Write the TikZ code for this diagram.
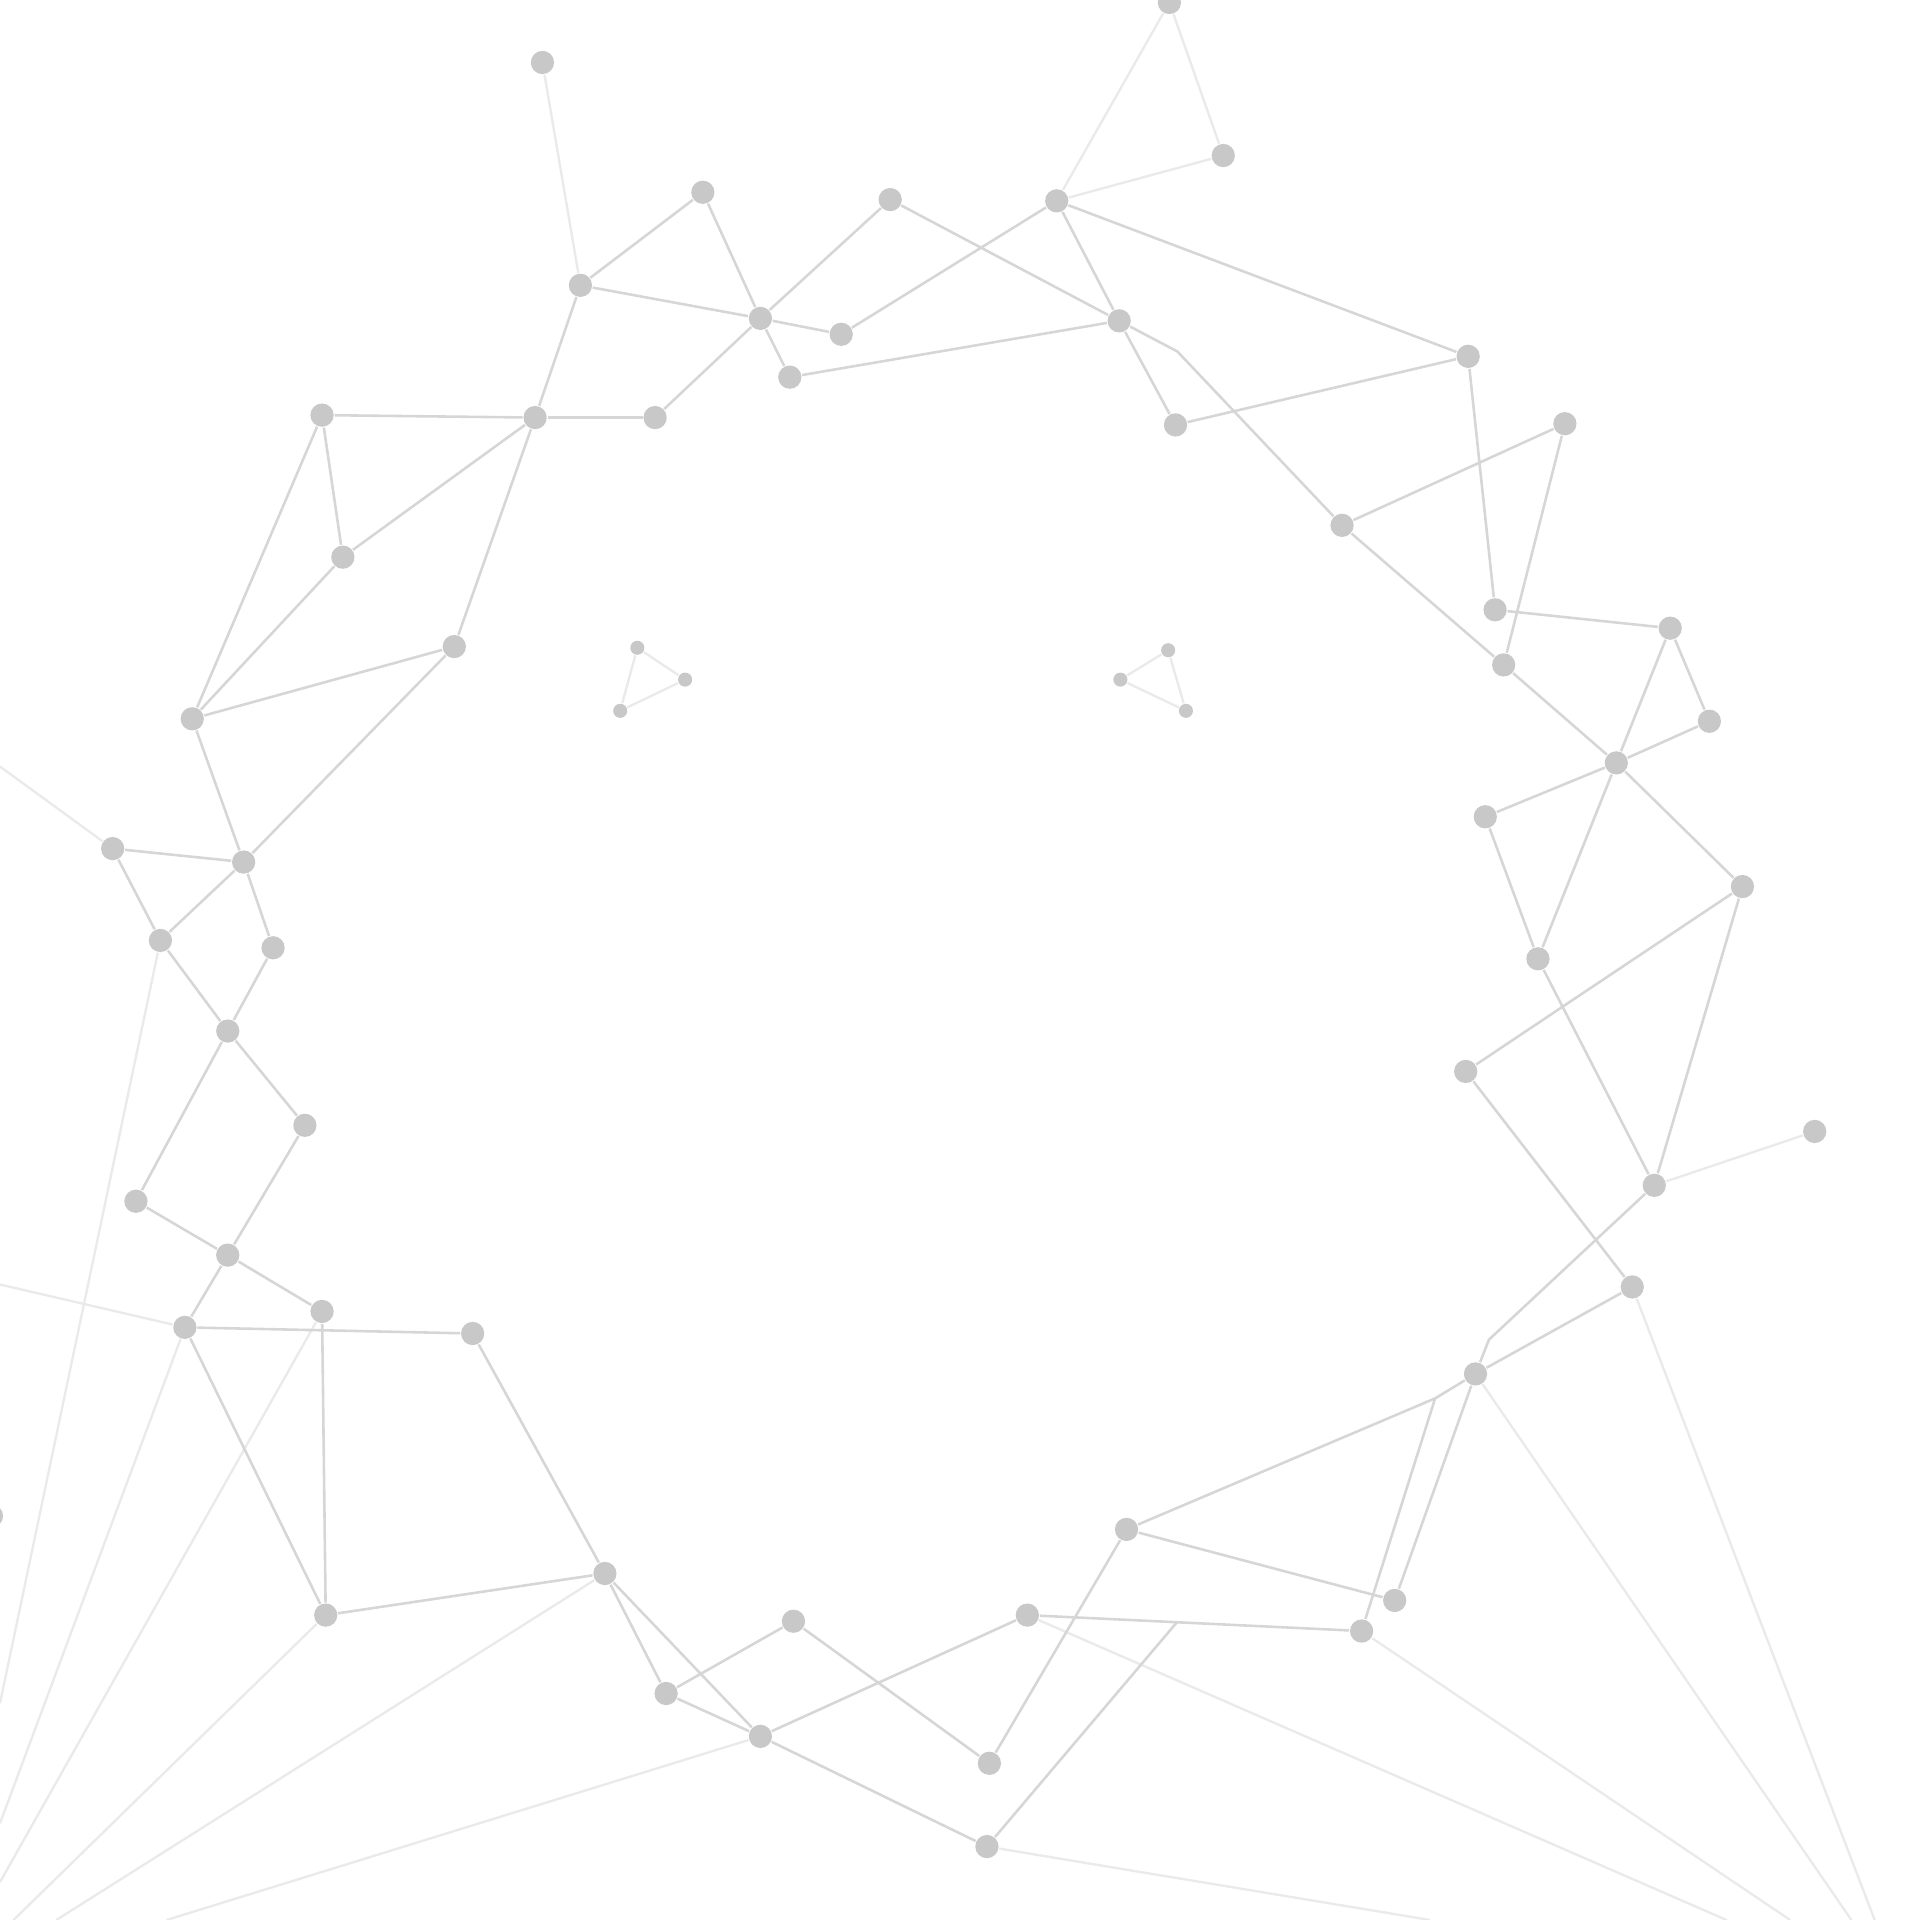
\documentclass[tikz,border=0pt]{standalone}
\definecolor{nodegray}{HTML}{C8C8C8}
\definecolor{edgegray}{HTML}{D6D6D6}
\definecolor{edgelight}{HTML}{EAEAEA}
\begin{document}
\begin{tikzpicture}[x=0.01cm,y=-0.01cm,
  dot/.style={circle,fill=nodegray,draw=none,inner sep=0pt,minimum size=0.19cm},
  tiny/.style={circle,fill=nodegray,draw=none,inner sep=0pt,minimum size=0.115cm},
  edge/.style={draw=edgegray,line width=0.6pt},
  faint/.style={draw=edgelight,line width=0.55pt}]
\useasboundingbox (0,0) rectangle (1568,1568);
\clip (0,0) rectangle (1568,1568);
% nodes
\node[dot] (n1) at (443,51) {};
\node[dot] (n2) at (955,2) {};
\node[dot] (n3) at (999,127) {};
\node[dot] (n4) at (574,157) {};
\node[dot] (n5) at (727,163) {};
\node[dot] (n6) at (863,164) {};
\node[dot] (n7) at (474,233) {};
\node[dot] (n8) at (621,260) {};
\node[dot] (n9) at (687,273) {};
\node[dot] (n10) at (914,262) {};
\node[dot] (n11) at (645,308) {};
\node[dot] (n12) at (1199,291) {};
\node[dot] (n13) at (1278,346) {};
\node[dot] (n14) at (960,347) {};
\node[dot] (n15) at (263,339) {};
\node[dot] (n16) at (437,341) {};
\node[dot] (n17) at (535,341) {};
\node[dot] (n18) at (280,455) {};
\node[dot] (n19) at (1096,429) {};
\node[dot] (n20) at (1221,498) {};
\node[dot] (n21) at (1364,513) {};
\node[dot] (n22) at (1228,543) {};
\node[dot] (n23) at (371,528) {};
\node[dot] (n24) at (157,587) {};
\node[dot] (n25) at (1396,589) {};
\node[dot] (n26) at (1320,623) {};
\node[dot] (n27) at (1213,667) {};
\node[dot] (n28) at (92,693) {};
\node[dot] (n29) at (199,704) {};
\node[dot] (n30) at (1423,724) {};
\node[dot] (n31) at (131,768) {};
\node[dot] (n32) at (223,774) {};
\node[dot] (n33) at (1256,783) {};
\node[dot] (n34) at (186,842) {};
\node[dot] (n35) at (1197,875) {};
\node[dot] (n36) at (249,919) {};
\node[dot] (n37) at (1482,924) {};
\node[dot] (n38) at (1351,968) {};
\node[dot] (n39) at (111,981) {};
\node[dot] (n40) at (186,1025) {};
\node[dot] (n41) at (1333,1051) {};
\node[dot] (n42) at (263,1071) {};
\node[dot] (n43) at (151,1084) {};
\node[dot] (n44) at (386,1089) {};
\node[dot] (n45) at (1205,1122) {};
\node[dot] (n46) at (920,1249) {};
\node[dot] (n47) at (494,1285) {};
\node[dot] (n48) at (1139,1307) {};
\node[dot] (n49) at (266,1319) {};
\node[dot] (n50) at (839,1319) {};
\node[dot] (n51) at (1112,1332) {};
\node[dot] (n52) at (648,1324) {};
\node[dot] (n53) at (544,1383) {};
\node[dot] (n54) at (621,1418) {};
\node[dot] (n55) at (808,1440) {};
\node[dot] (n56) at (806,1508) {};
\node[dot] (n57) at (-7,1238) {};
\node[tiny] (t1) at (520.5,529) {};
\node[tiny] (t2) at (559.5,555) {};
\node[tiny] (t3) at (506.5,580.5) {};
\node[tiny] (t4) at (954,531) {};
\node[tiny] (t5) at (915,555) {};
\node[tiny] (t6) at (968.5,580.5) {};
% bend / junction points
\coordinate (b1) at (961.5,287);
\coordinate (j1) at (1172,1142);
\coordinate (j2) at (1216,1094);
\coordinate (p1) at (961,1325);
% free ends
\coordinate (e1) at (0,626);
\coordinate (e2) at (0,1049);
\coordinate (e3) at (0,1391);
\coordinate (e4) at (0,1489);
\coordinate (e5) at (0,1537);
\coordinate (e6) at (11,1568);
\coordinate (e7) at (46,1568);
\coordinate (e8) at (136,1568);
\coordinate (e9) at (1168,1568);
\coordinate (e10) at (1410,1568);
\coordinate (e11) at (1462,1568);
\coordinate (e12) at (1512,1568);
\coordinate (e13) at (1531,1568);
% faint connectors
\draw[faint] (n1) -- (n7);
\draw[faint] (n2) -- (n3);
\draw[faint] (n2) -- (n6);
\draw[faint] (n3) -- (n6);
\draw[faint] (n28) -- (e1);
\draw[faint] (n43) -- (e2);
\draw[faint] (n31) -- (e3);
\draw[faint] (n43) -- (e4);
\draw[faint] (n42) -- (e5);
\draw[faint] (n49) -- (e6);
\draw[faint] (n47) -- (e7);
\draw[faint] (n54) -- (e8);
\draw[faint] (n56) -- (e9);
\draw[faint] (n50) -- (e10);
\draw[faint] (n51) -- (e11);
\draw[faint] (n45) -- (e12);
\draw[faint] (n41) -- (e13);
\draw[faint] (n38) -- (n37);
\draw[faint] (t1) -- (t2) -- (t3) -- (t1);
\draw[faint] (t4) -- (t5) -- (t6) -- (t4);
% regular connectors
\draw[edge] (n4) -- (n7);
\draw[edge] (n4) -- (n8);
\draw[edge] (n5) -- (n8);
\draw[edge] (n5) -- (n10);
\draw[edge] (n6) -- (n9);
\draw[edge] (n6) -- (n10);
\draw[edge] (n6) -- (n12);
\draw[edge] (n7) -- (n8);
\draw[edge] (n8) -- (n9);
\draw[edge] (n8) -- (n11);
\draw[edge] (n8) -- (n17);
\draw[edge] (n7) -- (n16);
\draw[edge] (n10) -- (n11);
\draw[edge] (n10) -- (n14);
\draw[edge] (n10) -- (b1) -- (n19);
\draw[edge] (n14) -- (n12);
\draw[edge] (n12) -- (n20);
\draw[edge] (n13) -- (n19);
\draw[edge] (n13) -- (n22);
\draw[edge] (n19) -- (n22);
\draw[edge] (n20) -- (n21);
\draw[edge] (n21) -- (n26);
\draw[edge] (n21) -- (n25);
\draw[edge] (n22) -- (n26);
\draw[edge] (n25) -- (n26);
\draw[edge] (n26) -- (n27);
\draw[edge] (n26) -- (n30);
\draw[edge] (n26) -- (n33);
\draw[edge] (n27) -- (n33);
\draw[edge] (n33) -- (n38);
\draw[edge] (n30) -- (n35);
\draw[edge] (n30) -- (n38);
\draw[edge] (n35) -- (n41);
\draw[edge] (n38) -- (j2) -- (n45);
\draw[edge] (n41) -- (n45);
\draw[edge] (n45) -- (n48);
\draw[edge] (n45) -- (j1) -- (n46);
\draw[edge] (j1) -- (n51);
\draw[edge] (n46) -- (n48);
\draw[edge] (n46) -- (n55);
\draw[edge] (n50) -- (n51);
\draw[edge] (p1) -- (n56);
\draw[edge] (n50) -- (n54);
\draw[edge] (n55) -- (n52);
\draw[edge] (n52) -- (n53);
\draw[edge] (n53) -- (n47);
\draw[edge] (n47) -- (n54);
\draw[edge] (n53) -- (n54);
\draw[edge] (n54) -- (n56);
\draw[edge] (n47) -- (n49);
\draw[edge] (n47) -- (n44);
\draw[edge] (n49) -- (n43);
\draw[edge] (n49) -- (n42);
\draw[edge] (n43) -- (n44);
\draw[edge] (n43) -- (n40);
\draw[edge] (n42) -- (n40);
\draw[edge] (n40) -- (n39);
\draw[edge] (n40) -- (n36);
\draw[edge] (n39) -- (n34);
\draw[edge] (n34) -- (n36);
\draw[edge] (n34) -- (n31);
\draw[edge] (n34) -- (n32);
\draw[edge] (n32) -- (n29);
\draw[edge] (n31) -- (n28);
\draw[edge] (n31) -- (n29);
\draw[edge] (n28) -- (n29);
\draw[edge] (n29) -- (n24);
\draw[edge] (n29) -- (n23);
\draw[edge] (n24) -- (n23);
\draw[edge] (n24) -- (n18);
\draw[edge] (n24) -- (n15);
\draw[edge] (n15) -- (n18);
\draw[edge] (n15) -- (n16);
\draw[edge] (n16) -- (n17);
\draw[edge] (n16) -- (n18);
\draw[edge] (n16) -- (n23);
\end{tikzpicture}
\end{document}
